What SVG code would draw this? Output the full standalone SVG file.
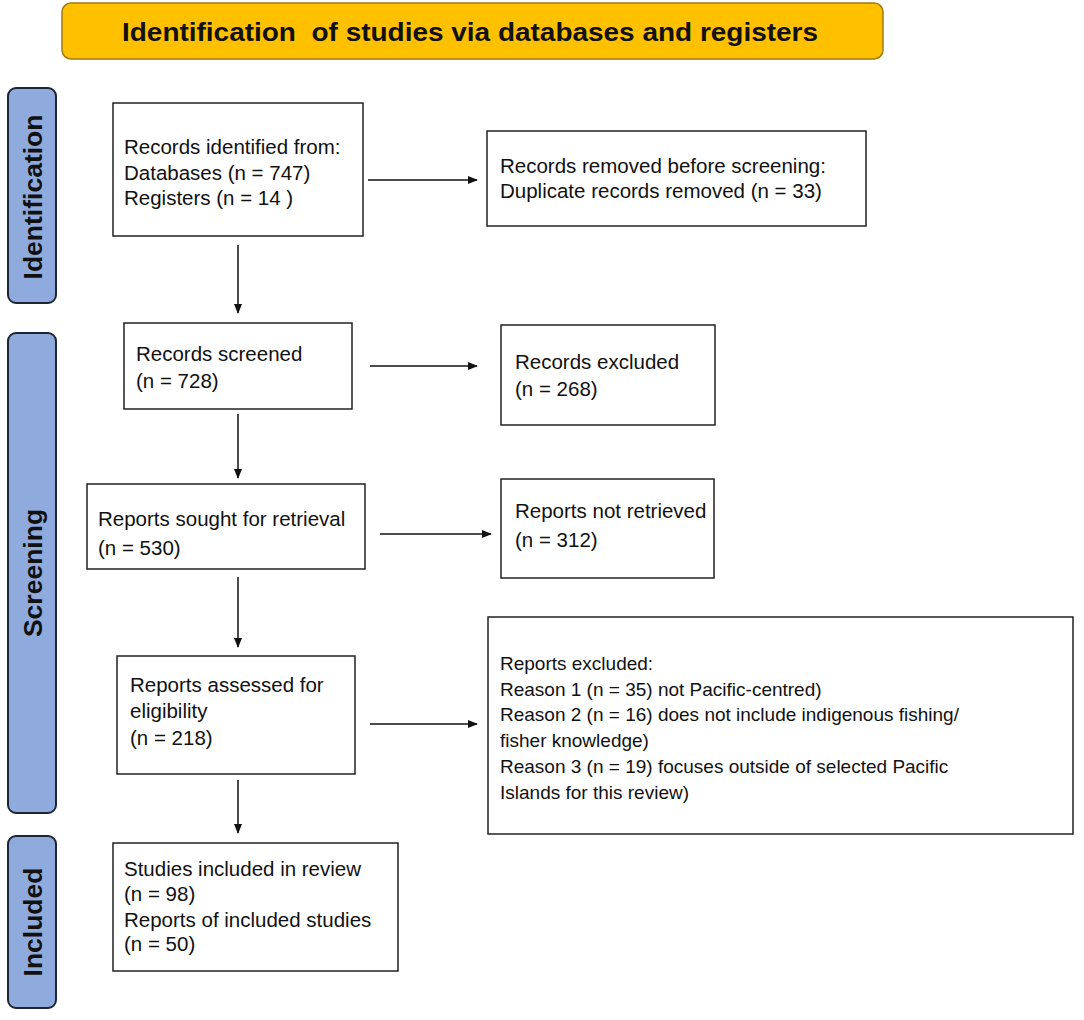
<svg xmlns="http://www.w3.org/2000/svg" width="1084" height="1020" viewBox="0 0 1084 1020">
<style>
.box{fill:#fff;stroke:#222;stroke-width:1.5}
.side{fill:#8faadc;stroke:#1f2633;stroke-width:2}
.t{font-family:"Liberation Sans",Arial,sans-serif;font-size:20.5px;fill:#111}
.r{font-size:19px}
.st{font-family:"Liberation Sans",Arial,sans-serif;font-size:26.5px;font-weight:bold;fill:#111}
.ln{stroke:#111;stroke-width:1.5;fill:none}
</style>
<defs>
<marker id="ah" markerWidth="10" markerHeight="8" refX="9" refY="4" orient="auto" markerUnits="userSpaceOnUse">
<path d="M0,0 L10,4 L0,8 Z" fill="#111"/>
</marker>
</defs>
<rect width="1084" height="1020" fill="#fff"/>
<g id="title">
<rect x="62" y="3" width="821" height="56" rx="9" fill="#ffc000" stroke="#a07a10" stroke-width="1.5"/>
<text x="470" y="41" text-anchor="middle" class="st" font-size="28" textLength="696" lengthAdjust="spacingAndGlyphs" xml:space="preserve">Identification  of studies via databases and registers</text>
</g>
<g id="side-identification">
<rect class="side" x="8" y="88" width="48" height="215" rx="8"/>
<text class="st" transform="translate(42,197) rotate(-90)" text-anchor="middle">Identification</text>
</g>
<g id="side-screening">
<rect class="side" x="8" y="333" width="48" height="480" rx="8"/>
<text class="st" transform="translate(42,573) rotate(-90)" text-anchor="middle">Screening</text>
</g>
<g id="side-included">
<rect class="side" x="8" y="836" width="48" height="172" rx="8"/>
<text class="st" transform="translate(42,922) rotate(-90)" text-anchor="middle">Included</text>
</g>
<g id="n1">
<rect class="box" x="113" y="103" width="250" height="133"/>
<text class="t" x="124" y="154">Records identified from:</text>
<text class="t" x="124" y="180">Databases (n = 747)</text>
<text class="t" x="124" y="205">Registers (n = 14 )</text>
</g>
<g id="n2">
<rect class="box" x="487" y="131" width="379" height="95"/>
<text class="t" x="500" y="173">Records removed before screening:</text>
<text class="t" x="500" y="198">Duplicate records removed (n = 33)</text>
</g>
<g id="n3">
<rect class="box" x="124" y="323" width="228" height="86"/>
<text class="t" x="136" y="361">Records screened</text>
<text class="t" x="136" y="388">(n = 728)</text>
</g>
<g id="n4">
<rect class="box" x="501" y="325" width="214" height="100"/>
<text class="t" x="515" y="369">Records excluded</text>
<text class="t" x="515" y="396">(n = 268)</text>
</g>
<g id="n5">
<rect class="box" x="87" y="484" width="278" height="85"/>
<text class="t" x="98" y="526">Reports sought for retrieval</text>
<text class="t" x="98" y="555">(n = 530)</text>
</g>
<g id="n6">
<rect class="box" x="501" y="479" width="213" height="99"/>
<text class="t" x="515" y="518">Reports not retrieved</text>
<text class="t" x="515" y="547">(n = 312)</text>
</g>
<g id="n7">
<rect class="box" x="117" y="656" width="238" height="118"/>
<text class="t" x="130" y="692">Reports assessed for</text>
<text class="t" x="130" y="718">eligibility</text>
<text class="t" x="130" y="745">(n = 218)</text>
</g>
<g id="n8">
<rect class="box" x="488" y="617" width="585" height="217"/>
<text class="t r" x="500" y="670">Reports excluded:</text>
<text class="t r" x="500" y="696">Reason 1 (n = 35) not Pacific-centred)</text>
<text class="t r" x="500" y="721">Reason 2 (n = 16) does not include indigenous fishing/</text>
<text class="t r" x="500" y="747">fisher knowledge)</text>
<text class="t r" x="500" y="773">Reason 3 (n = 19) focuses outside of selected Pacific</text>
<text class="t r" x="500" y="799">Islands for this review)</text>
</g>
<g id="n9">
<rect class="box" x="113" y="843" width="285" height="128"/>
<text class="t" x="124" y="876">Studies included in review</text>
<text class="t" x="124" y="901">(n = 98)</text>
<text class="t" x="124" y="927">Reports of included studies</text>
<text class="t" x="124" y="951">(n = 50)</text>
</g>
<g id="connectors">
<line class="ln" x1="368" y1="180" x2="477" y2="180" marker-end="url(#ah)"/>
<line class="ln" x1="238" y1="245" x2="238" y2="313" marker-end="url(#ah)"/>
<line class="ln" x1="370" y1="366" x2="477" y2="366" marker-end="url(#ah)"/>
<line class="ln" x1="238" y1="414" x2="238" y2="478" marker-end="url(#ah)"/>
<line class="ln" x1="380" y1="534" x2="491" y2="534" marker-end="url(#ah)"/>
<line class="ln" x1="238" y1="577" x2="238" y2="647" marker-end="url(#ah)"/>
<line class="ln" x1="370" y1="724" x2="477" y2="724" marker-end="url(#ah)"/>
<line class="ln" x1="238" y1="780" x2="238" y2="833" marker-end="url(#ah)"/>
</g>
</svg>
